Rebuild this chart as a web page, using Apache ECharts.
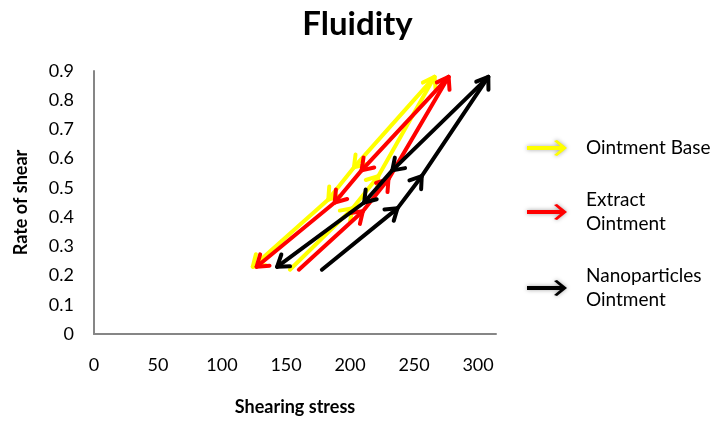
<!DOCTYPE html>
<html>
<head>
<meta charset="utf-8">
<script src="https://cdn.jsdelivr.net/npm/echarts@6/dist/echarts.min.js"></script>
<style>html,body{margin:0;padding:0;background:#fff}#c{width:715px;height:421px}</style>
</head>
<body>
<div id="c"></div>
<script>
const seriesNames = ['Ointment Base', 'Extract Ointment', 'Nanoparticles Ointment'];
const legendLabels = ['Ointment Base', 'Extract\nOintment', 'Nanoparticles\nOintment'];
const seriesColors = ['#FFFF00', '#FF0000', '#000000'];
// Shearing stress (x) and rate of shear (y): up curve then down curve
const baseX = [153, 202, 222, 266, 203, 183, 124];
const baseY = [0.22, 0.43, 0.54, 0.88, 0.57, 0.46, 0.23];
const extractX = [160, 210, 230, 277, 209, 188, 127];
const extractY = [0.22, 0.42, 0.53, 0.88, 0.56, 0.45, 0.23];
const nanoX = [178, 237, 256, 308, 233, 211, 143];
const nanoY = [0.22, 0.43, 0.54, 0.88, 0.56, 0.45, 0.23];
const xTickValues = [0, 50, 100, 150, 200, 250, 300];
const yTickValues = [0, 0.1, 0.2, 0.3, 0.4, 0.5, 0.6, 0.7, 0.8, 0.9];

const allX = [baseX, extractX, nanoX];
const allY = [baseY, extractY, nanoY];

function segments(xs, ys) {
  const out = [];
  for (let i = 1; i < xs.length; i++) out.push([xs[i - 1], ys[i - 1], xs[i], ys[i]]);
  return out;
}

function makeRender(color) {
  return function (params, api) {
    const p0 = api.coord([api.value(0), api.value(1)]);
    const p1 = api.coord([api.value(2), api.value(3)]);
    const ang = Math.atan2(p1[1] - p0[1], p1[0] - p0[0]);
    const L = 13, a = 0.6;
    const b1 = [p1[0] - L * Math.cos(ang - a), p1[1] - L * Math.sin(ang - a)];
    const b2 = [p1[0] - L * Math.cos(ang + a), p1[1] - L * Math.sin(ang + a)];
    const style = { stroke: color, lineWidth: 4, lineCap: 'round', lineJoin: 'round', fill: null };
    return {
      type: 'group',
      children: [
        { type: 'line', shape: { x1: p0[0], y1: p0[1], x2: p1[0], y2: p1[1] }, style: style },
        { type: 'polyline', shape: { points: [b1, p1, b2] }, style: style }
      ]
    };
  };
}

const FONT = 'Lato, "Open Sans", sans-serif';
const arrowIcon = 'path://M0,6 L33,6 L27,1 L30,0 L40,8 L30,16 L27,15 L33,10 L0,10 Z';
const legendTops = [136, 188, 264];

const chart = echarts.init(document.getElementById('c'), null, { renderer: 'canvas' });
chart.setOption({
  backgroundColor: '#fff',
  animation: false,
  title: {
    text: 'Fluidity',
    left: 'center',
    top: 3,
    textStyle: { fontFamily: FONT, fontWeight: 'bold', fontSize: 33, color: '#000' }
  },
  legend: seriesNames.map((n, i) => ({
    data: [n],
    left: 527,
    top: legendTops[i],
    padding: 0,
    orient: 'vertical',
    icon: arrowIcon,
    itemWidth: 44,
    itemHeight: 16,
    selectedMode: false,
    itemStyle: { shadowBlur: 4, shadowColor: 'rgba(0,0,0,0.35)' },
    formatter: () => legendLabels[i],
    textStyle: { fontFamily: FONT, fontSize: 19, lineHeight: 24, color: '#000', padding: [0, 0, 0, 12] }
  })),
  grid: { left: 94, top: 71, right: 219, bottom: 85, containLabel: false },
  xAxis: {
    type: 'value',
    min: 0,
    max: 314,
    interval: 50,
    name: 'Shearing stress',
    nameLocation: 'middle',
    nameGap: 64,
    nameTextStyle: { fontFamily: FONT, fontWeight: 'bold', fontSize: 18, color: '#000' },
    axisLine: { show: true, lineStyle: { color: '#868686', width: 2 } },
    axisTick: { show: false },
    splitLine: { show: false },
    axisLabel: {
      showMaxLabel: false,
      margin: 22,
      fontFamily: FONT, fontSize: 18, color: '#000',
      formatter: v => (xTickValues.indexOf(v) >= 0 ? String(v) : '')
    }
  },
  yAxis: {
    type: 'value',
    min: 0,
    max: 0.9,
    interval: 0.1,
    name: 'Rate of shear',
    nameLocation: 'middle',
    nameGap: 64,
    nameTextStyle: { fontFamily: FONT, fontWeight: 'bold', fontSize: 18, color: '#000' },
    axisLine: { show: true, lineStyle: { color: '#868686', width: 2 } },
    axisTick: { show: false },
    splitLine: { show: false },
    axisLabel: {
      margin: 20,
      fontFamily: FONT, fontSize: 18, color: '#000',
      formatter: v => {
        const r = Math.round(v * 10) / 10;
        return yTickValues.indexOf(r) >= 0 ? String(r) : '';
      }
    }
  },
  series: seriesNames.map((n, i) => ({
    name: n,
    type: 'custom',
    renderItem: makeRender(seriesColors[i]),
    itemStyle: { color: seriesColors[i] },
    encode: { x: [0, 2], y: [1, 3] },
    data: segments(allX[i], allY[i]),
    z: 2 + i
  }))
});
</script>
</body>
</html>
